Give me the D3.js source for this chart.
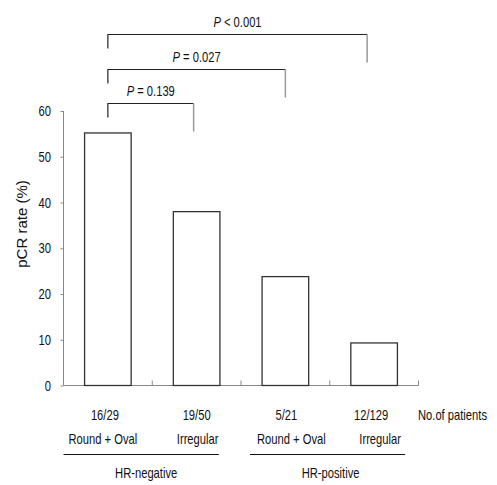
<!DOCTYPE html>
<html><head><meta charset="utf-8">
<script src="https://cdn.jsdelivr.net/npm/d3@7"></script>
<style>
body{margin:0;background:#fff;}
svg text{font-family:"Liberation Sans",Arial,sans-serif;fill:#111;}
</style></head><body>
<svg id="c" width="497" height="485"></svg>
<script>
const categories = ["A","B","C","D"];
const values = [55.2, 38.0, 23.8, 9.3];
const ratios = ["16/29","19/50","5/21","12/129"];
const shapes = ["Round + Oval","Irregular","Round + Oval","Irregular"];
const groups = ["HR-negative","HR-positive"];
const yTicks = [0,10,20,30,40,50,60];
const comparisons = [
  {from:0, to:1, label:"= 0.139", level:0},
  {from:0, to:2, label:"= 0.027", level:1},
  {from:0, to:3, label:"< 0.001", level:2}
];

const svg = d3.select("#c");
const x = d3.scaleBand().domain(categories).range([63.5, 418.5]).padding(0);
const y = d3.scaleLinear().domain([0,60]).range([385.5, 111]);
const bw = x.bandwidth()*0.525;
const cx = c => x(c) + x.bandwidth()/2;
const SX = 0.8;

function ctext(parent, px, py, anchor){
  return parent.append("text")
    .attr("transform",`translate(${px},${py}) scale(${SX},1)`)
    .attr("text-anchor",anchor||"middle").attr("font-size","14px");
}

// y axis
const ya = svg.append("g").attr("transform","translate(63.5,0)")
  .call(d3.axisLeft(y).tickValues(yTicks).tickSize(3).tickPadding(9).tickFormat(()=>""));
ya.select(".domain").attr("stroke","#888").attr("d","M0,"+y(60)+"V"+y(0));
ya.selectAll(".tick line").attr("stroke","#888");
yTicks.forEach(t=>{
  ctext(svg, 51, y(t)+5, "end").text(t);
});

// x axis
const xa = svg.append("g").attr("transform","translate(0,385.5)");
xa.append("line").attr("x1",63.5).attr("x2",418.5).attr("stroke","#888");
categories.forEach(c=>{
  const xe = x(c)+x.bandwidth();
  xa.append("line").attr("x1",xe).attr("x2",xe).attr("y1",0).attr("y2",-5).attr("stroke","#888");
});

// bars
svg.append("g").selectAll("rect").data(values).join("rect")
  .attr("x",(d,i)=>cx(categories[i])-bw/2)
  .attr("y",d=>y(d)).attr("width",bw).attr("height",d=>y(0)-y(d))
  .attr("fill","#fff").attr("stroke","#333").attr("stroke-width",1.3);

// y label
svg.append("text").attr("transform","translate(27,224) rotate(-90)")
  .attr("text-anchor","middle").attr("font-size","15px")
  .text("pCR rate (%)");

// comparisons
const levelY = [103.5, 69.5, 34.5];
comparisons.forEach(cm=>{
  const ly = levelY[cm.level];
  const x1 = cx(categories[cm.from]);
  const x2 = cx(categories[cm.to]) - [3,0,7][cm.level];
  svg.append("path").attr("d",`M${x1},${ly+14}V${ly}H${x2}`).attr("fill","none").attr("stroke","#222").attr("stroke-width",1.2);
  svg.append("line").attr("x1",x2).attr("x2",x2).attr("y1",ly).attr("y2",ly+28).attr("stroke","#999").attr("stroke-width",1.5);
  const t = ctext(svg, (x1+x2)/2, ly-8, "middle");
  t.append("tspan").attr("font-style","italic").text("P");
  t.append("tspan").text(" "+cm.label);
});

// bottom labels
ratios.forEach((r,i)=>{
  ctext(svg, cx(categories[i])-3+[0,3,4,0][i], 420).text(r);
  ctext(svg, cx(categories[i])+[-5,1,6,6][i], 444).text(shapes[i]);
});
ctext(svg, 418, 420, "start").text("No.of patients");
groups.forEach((g,i)=>{
  const a = x(categories[i*2]) + [0,9][i], b = x(categories[i*2+1]) + x.bandwidth()*[0.75,0.85][i];
  svg.append("line").attr("x1",a).attr("x2",b).attr("y1",454.5).attr("y2",454.5).attr("stroke","#111").attr("stroke-width",1.1);
  ctext(svg, (a+b)/2+[5,3][i], 478).text(g);
});
</script></body></html>
